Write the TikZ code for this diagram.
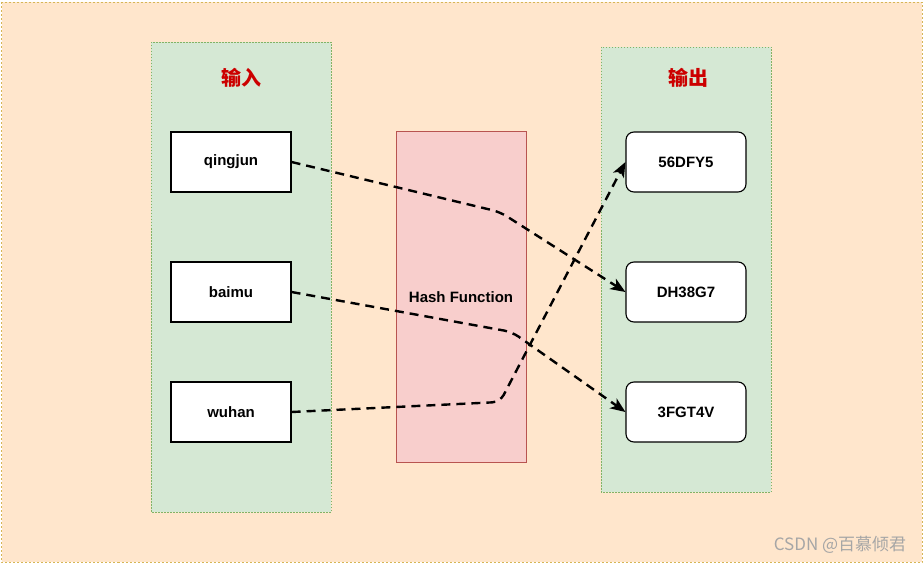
\documentclass[tikz,border=0pt]{standalone}
\usepackage{fontspec}
\setmainfont{Liberation Sans}
\newfontfamily\cjk{Noto Sans CJK SC}
\usetikzlibrary{arrows.meta}
\definecolor{bgfill}{HTML}{FFE6CC}
\definecolor{bgline}{HTML}{D6B656}
\definecolor{panelfill}{HTML}{D5E8D4}
\definecolor{panelline}{HTML}{82B366}
\definecolor{hashfill}{HTML}{F8CECC}
\definecolor{hashline}{HTML}{B85450}
\definecolor{titlered}{HTML}{CC0000}
\tikzset{
  panel/.style={draw=panelline, fill=panelfill, dashed, dash pattern=on 1.5pt off 1.5pt, line width=0.5pt},
  inbox/.style={draw=black, fill=white, line width=1.1pt, minimum width=120pt, minimum height=60pt,
    font=\fontsize{15}{17}\selectfont\bfseries},
  outbox/.style={inbox, rounded corners=8pt},
  paneltitle/.style={text=titlered, font=\cjk\fontsize{20}{22}\selectfont\bfseries},
  link/.style={line width=2.4pt, dash pattern=on 9pt off 6pt, rounded corners=8pt,
    -{Stealth[length=15pt, width=12pt, inset=4pt]}}
}
\begin{document}
\begin{tikzpicture}[x=1pt, y=-1pt]
		\useasboundingbox (0,0) rectangle (924,564);
		
		% background
		\draw[fill=bgfill, draw=bgline, dashed, dash pattern=on 2pt off 2pt, line width=0.8pt] (1.5,2) rectangle (922,562);
		
		% panels
		\draw[panel] (151,42) rectangle (331,512);
		\draw[panel] (601,47) rectangle (771,492);
		\node[paneltitle] (intitle) at (241,78) {输入};
		\node[paneltitle] (outtitle) at (688,78) {输出};
		
		% hash function
		\node[draw=hashline, fill=hashfill, line width=1pt, minimum width=130pt, minimum height=330pt,
		  font=\fontsize{15}{17}\selectfont\bfseries] (hash) at (461,297) {Hash Function};
		
		% inputs
		\node[inbox] (qingjun) at (231,162) {qingjun};
		\node[inbox] (baimu) at (231,292) {baimu};
		\node[inbox] (wuhan) at (231,412) {wuhan};
		
		% outputs
		\node[outbox] (dfy) at (686,162) {56DFY5};
		\node[outbox] (dhg) at (686,292) {DH38G7};
		\node[outbox] (fgt) at (686,412) {3FGT4V};
		
		% mappings
		\coordinate (bendq) at (500,212);
		\coordinate (bendb) at (512,332);
		\coordinate (bendw) at (500,402);
		\draw[link] (qingjun.east) -- (bendq) -- (dhg.west);
		\draw[link] (baimu.east) -- (bendb) -- (fgt.west);
		\draw[link] (wuhan.east) -- (bendw) -- (dfy.west);
		
		% watermark
		\node[text=black!35, font=\cjk\fontsize{17}{19}\selectfont] (mark) at (840,545) {CSDN @百慕倾君};
		
\end{tikzpicture}
\end{document}
